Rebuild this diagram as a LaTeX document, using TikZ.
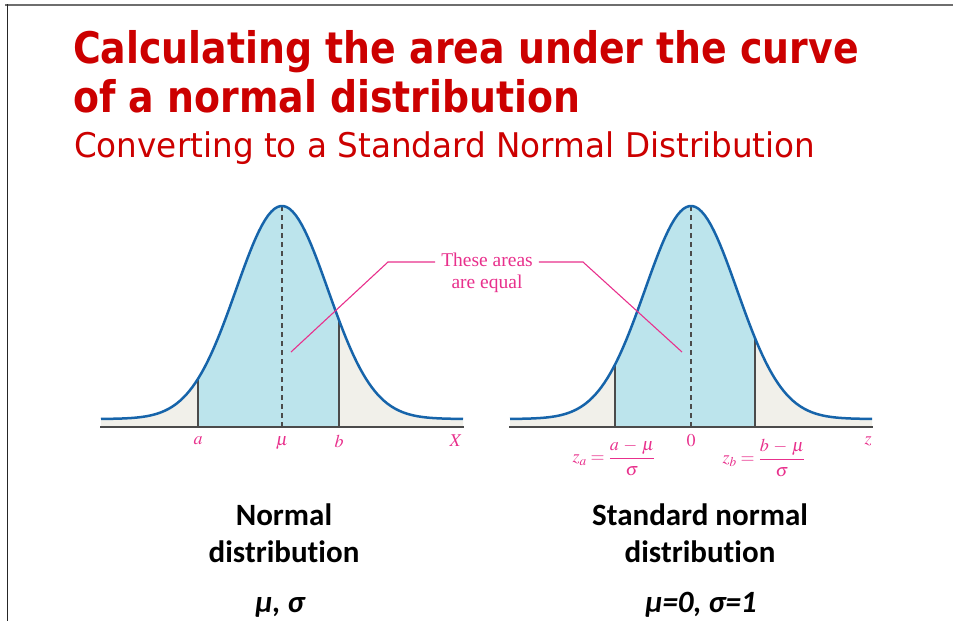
\documentclass[tikz,border=0pt]{standalone}
\usepackage{amsmath}
\usepackage{mathptmx}
\usepackage[no-math]{fontspec}
\setmainfont{Liberation Serif}
\newfontfamily\headfont[FakeStretch=0.87]{DejaVu Sans}
\newfontfamily\subheadfont[FakeStretch=0.96]{DejaVu Sans}
\newfontfamily\capfont[Ligatures=NoCommon]{Carlito}
\usetikzlibrary{positioning}

\definecolor{titlered}{RGB}{204,0,0}
\definecolor{pinkish}{RGB}{232,48,140}
\definecolor{curveblue}{RGB}{22,100,170}
\definecolor{areafill}{RGB}{188,228,236}
\definecolor{tailfill}{RGB}{241,240,234}
\definecolor{axisgray}{RGB}{75,75,75}
\definecolor{framegray}{RGB}{110,110,110}

\begin{document}
\begin{tikzpicture}[x=1pt, y=-1pt,
    declare function={bell(\t)=213*exp(-0.5*(\t/46)^2);},
    curve/.style={curveblue, line width=2.5pt},
    axisline/.style={axisgray, line width=1.4pt},
    cut/.style={axisgray, line width=1.4pt},
    leader/.style={pinkish, line width=1.1pt},
    lbl/.style={pinkish, font=\fontsize{18}{21}\selectfont, inner sep=0pt},
    head/.style={titlered, anchor=base west, inner sep=0pt},
    capt/.style={font=\capfont\bfseries\fontsize{31}{37}\selectfont, anchor=base, inner sep=0pt}]
    \useasboundingbox (0,0) rectangle (953,621);

    % slide frame
    \draw[framegray, line width=2pt] (5,4.5) -- (953,4.5);
    \draw[black!85, line width=1.8pt] (7.5,4) -- (7.5,621);

    % title
    \node[head, font=\headfont\bfseries\fontsize{43.5}{48}\selectfont] (head1) at (73,63) {Calculating the area under the curve};
    \node[head, font=\headfont\bfseries\fontsize{43.5}{48}\selectfont] (head2) at (73,112) {of a normal distribution};
    \node[head, font=\subheadfont\fontsize{34}{40}\selectfont] (subhead) at (74,157) {Converting to a Standard Normal Distribution};

    % the two bell curves: centre / left cut / right cut
    \foreach \m/\lo/\hi in {282/-84/57, 691/-76/64} {
        \fill[tailfill] ({\m-181},427) -- plot[domain=-181:\lo, samples=40] ({\m+\x},{419-bell(\x)}) -- ({\m+\lo},427) -- cycle;
        \fill[areafill] ({\m+\lo},427) -- plot[domain=\lo:\hi, samples=60] ({\m+\x},{419-bell(\x)}) -- ({\m+\hi},427) -- cycle;
        \fill[tailfill] ({\m+\hi},427) -- plot[domain=\hi:181, samples=40] ({\m+\x},{419-bell(\x)}) -- ({\m+181},427) -- cycle;
        \draw[cut] ({\m+\lo},427) -- ({\m+\lo},{419-bell(\lo)});
        \draw[cut] ({\m+\hi},427) -- ({\m+\hi},{419-bell(\hi)});
        \draw[cut, line width=1.6pt, dash pattern=on 5.5pt off 3.5pt] (\m,427) -- (\m,206);
        \draw[curve] plot[domain=-181:181, samples=120] ({\m+\x},{419-bell(\x)});
        \draw[axisline] ({\m-182},427) -- ({\m+182},427);
    }

    % axis labels
    \node[lbl] (la) at (198,441) {$a$};
    \node[lbl] (lmu) at (282,443) {$\mu$};
    \node[lbl] (lb) at (339,441) {$b$};
    \node[lbl] (lX) at (456,441) {$X$};
    \node[lbl] (za) at (614,458) {$z_a=\dfrac{a\,-\,\mu}{\sigma}$};
    \node[lbl] (zero) at (691,441) {$0$};
    \node[lbl] (zb) at (764,458) {$z_b=\dfrac{b\,-\,\mu}{\sigma}$};
    \node[lbl] (lz) at (868,441) {$z$};

    % equal areas note
    \node[lbl, align=center, inner xsep=6pt, font=\fontsize{19.5}{22}\selectfont] (note) at (487,273) {These areas\\are equal};
    \coordinate (lp) at (291,352);
    \coordinate (lk) at (388,262);
    \coordinate (rp) at (682,352);
    \coordinate (rk) at (583,262);
    \draw[leader] (lp) -- (lk) -- (lk -| note.west);
    \draw[leader] (note.east |- rk) -- (rk) -- (rp);

    % captions
    \node[capt] (nrm1) at (284,525) {Normal};
    \node[capt] (nrm2) at (284,562) {distribution};
    \node[capt] (nrm3) at (280,612) {\itshape μ, σ};
    \node[capt] (std1) at (700,525) {Standard normal};
    \node[capt] (std2) at (700,562) {distribution};
    \node[capt] (std3) at (701,612) {\itshape μ=0, σ=1};
\end{tikzpicture}
\end{document}
